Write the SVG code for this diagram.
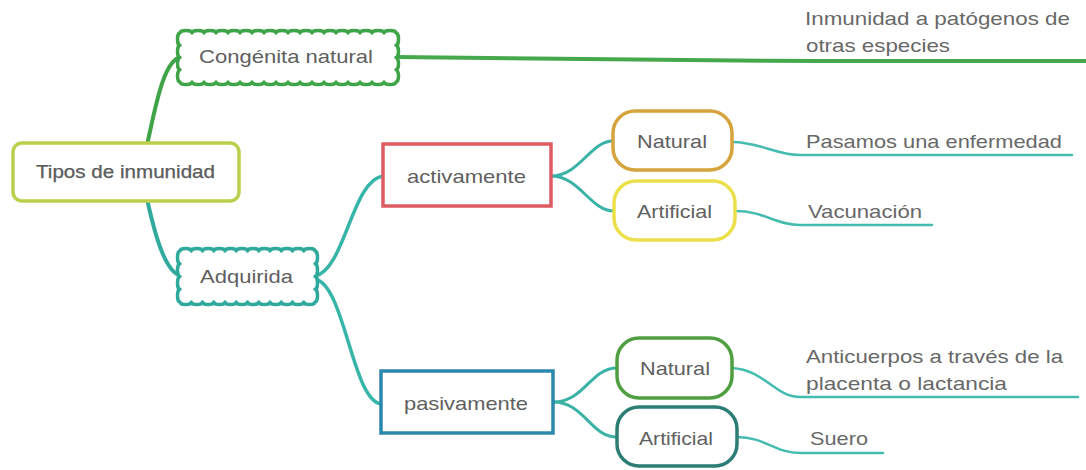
<svg xmlns="http://www.w3.org/2000/svg" width="1086" height="470" viewBox="0 0 1086 470">
<style>
.t{font-family:"Liberation Sans",Arial,sans-serif;fill:#606060;font-size:19px}
.lf{font-family:"Liberation Sans",Arial,sans-serif;fill:#686868;font-size:19px}
.c{fill:none;stroke-linecap:round}
.box{fill:#fff}
</style>
<rect width="1086" height="470" fill="#fff"/>
<g id="connectors">
<path class="c" d="M147,145 C155,110 163,60 181,57" stroke="#3fa447" stroke-width="4"/>
<path class="c" d="M396,57 C600,58 700,61 820,61 L1086,61" stroke="#46a84c" stroke-width="4"/>
<path class="c" d="M147,199 C155,235 165,272 181,276" stroke="#32ab9e" stroke-width="4"/>
<path class="c" d="M315,276 C345,270 352,180 383,176" stroke="#36b5a8" stroke-width="3.5"/>
<path class="c" d="M315,279 C345,285 352,400 381,404" stroke="#36b5a8" stroke-width="3.5"/>
<path class="c" d="M551,176 C580,176 590,141 613,141" stroke="#3ab2a6" stroke-width="3"/>
<path class="c" d="M551,176 C580,176 590,211 614,211" stroke="#3ab2a6" stroke-width="3"/>
<path class="c" d="M553,402 C585,402 590,368 617,368" stroke="#3ab2a6" stroke-width="3"/>
<path class="c" d="M553,402 C585,402 590,437 617,437" stroke="#3ab2a6" stroke-width="3"/>
<path class="c" d="M732,142 C760,142 775,155 800,155 L1072,155" stroke="#45bcb0" stroke-width="2.5"/>
<path class="c" d="M735,211 C765,211 775,225 800,225 L932,225" stroke="#45bcb0" stroke-width="2.5"/>
<path class="c" d="M732,368 C765,370 775,397 800,397 L1078,397" stroke="#45bcb0" stroke-width="2.5"/>
<path class="c" d="M737,437 C765,437 775,453 800,453 L883,453" stroke="#45bcb0" stroke-width="2.5"/>
</g>
<g id="root">
<rect class="box" x="13" y="143" width="226" height="58" rx="9" stroke="#bccf4c" stroke-width="3.5"/>
<text class="t" x="36" y="178" font-size="17" textLength="179" lengthAdjust="spacingAndGlyphs" fill="#474747" stroke="#474747" stroke-width="0.25">Tipos de inmunidad</text>
</g>
<g id="congenita">
<path class="box" stroke="#3fa447" stroke-width="3.5" stroke-linejoin="round" d="M180,33 a6 2.5 0 0 1 12 0 a6 2.5 0 0 1 12 0 a6 2.5 0 0 1 12 0 a6 2.5 0 0 1 12 0 a6 2.5 0 0 1 12 0 a6 2.5 0 0 1 12 0 a6 2.5 0 0 1 12 0 a6 2.5 0 0 1 12 0 a6 2.5 0 0 1 12 0 a6 2.5 0 0 1 12 0 a6 2.5 0 0 1 12 0 a6 2.5 0 0 1 12 0 a6 2.5 0 0 1 12 0 a6 2.5 0 0 1 12 0 a6 2.5 0 0 1 12 0 a6 2.5 0 0 1 12 0 a6 2.5 0 0 1 12 0 a6 2.5 0 0 1 12 0 a2.5 6.125 0 0 1 0 12.25 a2.5 6.125 0 0 1 0 12.25 a2.5 6.125 0 0 1 0 12.25 a2.5 6.125 0 0 1 0 12.25 a6 2.5 0 0 1 -12 0 a6 2.5 0 0 1 -12 0 a6 2.5 0 0 1 -12 0 a6 2.5 0 0 1 -12 0 a6 2.5 0 0 1 -12 0 a6 2.5 0 0 1 -12 0 a6 2.5 0 0 1 -12 0 a6 2.5 0 0 1 -12 0 a6 2.5 0 0 1 -12 0 a6 2.5 0 0 1 -12 0 a6 2.5 0 0 1 -12 0 a6 2.5 0 0 1 -12 0 a6 2.5 0 0 1 -12 0 a6 2.5 0 0 1 -12 0 a6 2.5 0 0 1 -12 0 a6 2.5 0 0 1 -12 0 a6 2.5 0 0 1 -12 0 a6 2.5 0 0 1 -12 0 a2.5 6.125 0 0 1 0 -12.25 a2.5 6.125 0 0 1 0 -12.25 a2.5 6.125 0 0 1 0 -12.25 a2.5 6.125 0 0 1 0 -12.25 Z"/>
<text class="t" x="199" y="63" font-size="20" textLength="174" lengthAdjust="spacingAndGlyphs">Congénita natural</text>
</g>
<g id="adquirida">
<path class="box" stroke="#2fa99c" stroke-width="3.5" stroke-linejoin="round" d="M180,251 a5.625 2.5 0 0 1 11.25 0 a5.625 2.5 0 0 1 11.25 0 a5.625 2.5 0 0 1 11.25 0 a5.625 2.5 0 0 1 11.25 0 a5.625 2.5 0 0 1 11.25 0 a5.625 2.5 0 0 1 11.25 0 a5.625 2.5 0 0 1 11.25 0 a5.625 2.5 0 0 1 11.25 0 a5.625 2.5 0 0 1 11.25 0 a5.625 2.5 0 0 1 11.25 0 a5.625 2.5 0 0 1 11.25 0 a5.625 2.5 0 0 1 11.25 0 a2.5 6.375 0 0 1 0 12.75 a2.5 6.375 0 0 1 0 12.75 a2.5 6.375 0 0 1 0 12.75 a2.5 6.375 0 0 1 0 12.75 a5.625 2.5 0 0 1 -11.25 0 a5.625 2.5 0 0 1 -11.25 0 a5.625 2.5 0 0 1 -11.25 0 a5.625 2.5 0 0 1 -11.25 0 a5.625 2.5 0 0 1 -11.25 0 a5.625 2.5 0 0 1 -11.25 0 a5.625 2.5 0 0 1 -11.25 0 a5.625 2.5 0 0 1 -11.25 0 a5.625 2.5 0 0 1 -11.25 0 a5.625 2.5 0 0 1 -11.25 0 a5.625 2.5 0 0 1 -11.25 0 a5.625 2.5 0 0 1 -11.25 0 a2.5 6.375 0 0 1 0 -12.75 a2.5 6.375 0 0 1 0 -12.75 a2.5 6.375 0 0 1 0 -12.75 a2.5 6.375 0 0 1 0 -12.75 Z"/>
<text class="t" x="200" y="283" font-size="20" textLength="93" lengthAdjust="spacingAndGlyphs">Adquirida</text>
</g>
<g id="activamente">
<rect class="box" x="383" y="144" width="168" height="62" stroke="#df5b63" stroke-width="3.5"/>
<text class="t" x="407" y="183" font-size="18" textLength="119" lengthAdjust="spacingAndGlyphs">activamente</text>
</g>
<g id="pasivamente">
<rect class="box" x="381" y="371" width="172" height="62" stroke="#2b88ad" stroke-width="3.5"/>
<text class="t" x="404" y="410" font-size="18" textLength="124" lengthAdjust="spacingAndGlyphs">pasivamente</text>
</g>
<g id="natural-activa">
<rect class="box" x="613" y="111" width="119" height="59" rx="22" stroke="#d6a43c" stroke-width="3.5"/>
<text class="t" x="637" y="148" font-size="18" textLength="70" lengthAdjust="spacingAndGlyphs">Natural</text>
</g>
<g id="artificial-activa">
<rect class="box" x="614" y="181" width="121" height="59" rx="22" stroke="#ece04a" stroke-width="3.5"/>
<text class="t" x="637" y="218" font-size="18" textLength="75" lengthAdjust="spacingAndGlyphs">Artificial</text>
</g>
<g id="natural-pasiva">
<rect class="box" x="617" y="338" width="115" height="60" rx="22" stroke="#4f9e3f" stroke-width="3.5"/>
<text class="t" x="640" y="375" font-size="18" textLength="70" lengthAdjust="spacingAndGlyphs">Natural</text>
</g>
<g id="artificial-pasiva">
<rect class="box" x="617" y="407" width="120" height="59" rx="22" stroke="#2c7d74" stroke-width="3.5"/>
<text class="t" x="639" y="445" font-size="18" textLength="74" lengthAdjust="spacingAndGlyphs">Artificial</text>
</g>
<g id="leaf-congenita">
<text class="lf" x="805" y="25" textLength="265" lengthAdjust="spacingAndGlyphs">Inmunidad a patógenos de</text>
<text class="lf" x="806" y="52" textLength="144" lengthAdjust="spacingAndGlyphs">otras especies</text>
</g>
<g id="leaf-pasamos">
<text class="lf" x="806" y="148" textLength="256" lengthAdjust="spacingAndGlyphs">Pasamos una enfermedad</text>
</g>
<g id="leaf-vacunacion">
<text class="lf" x="808" y="218" textLength="114" lengthAdjust="spacingAndGlyphs">Vacunación</text>
</g>
<g id="leaf-anticuerpos">
<text class="lf" x="806" y="363" textLength="257" lengthAdjust="spacingAndGlyphs">Anticuerpos a través de la</text>
<text class="lf" x="806" y="390" textLength="201" lengthAdjust="spacingAndGlyphs">placenta o lactancia</text>
</g>
<g id="leaf-suero">
<text class="lf" x="810" y="445" textLength="58" lengthAdjust="spacingAndGlyphs">Suero</text>
</g>
</svg>
